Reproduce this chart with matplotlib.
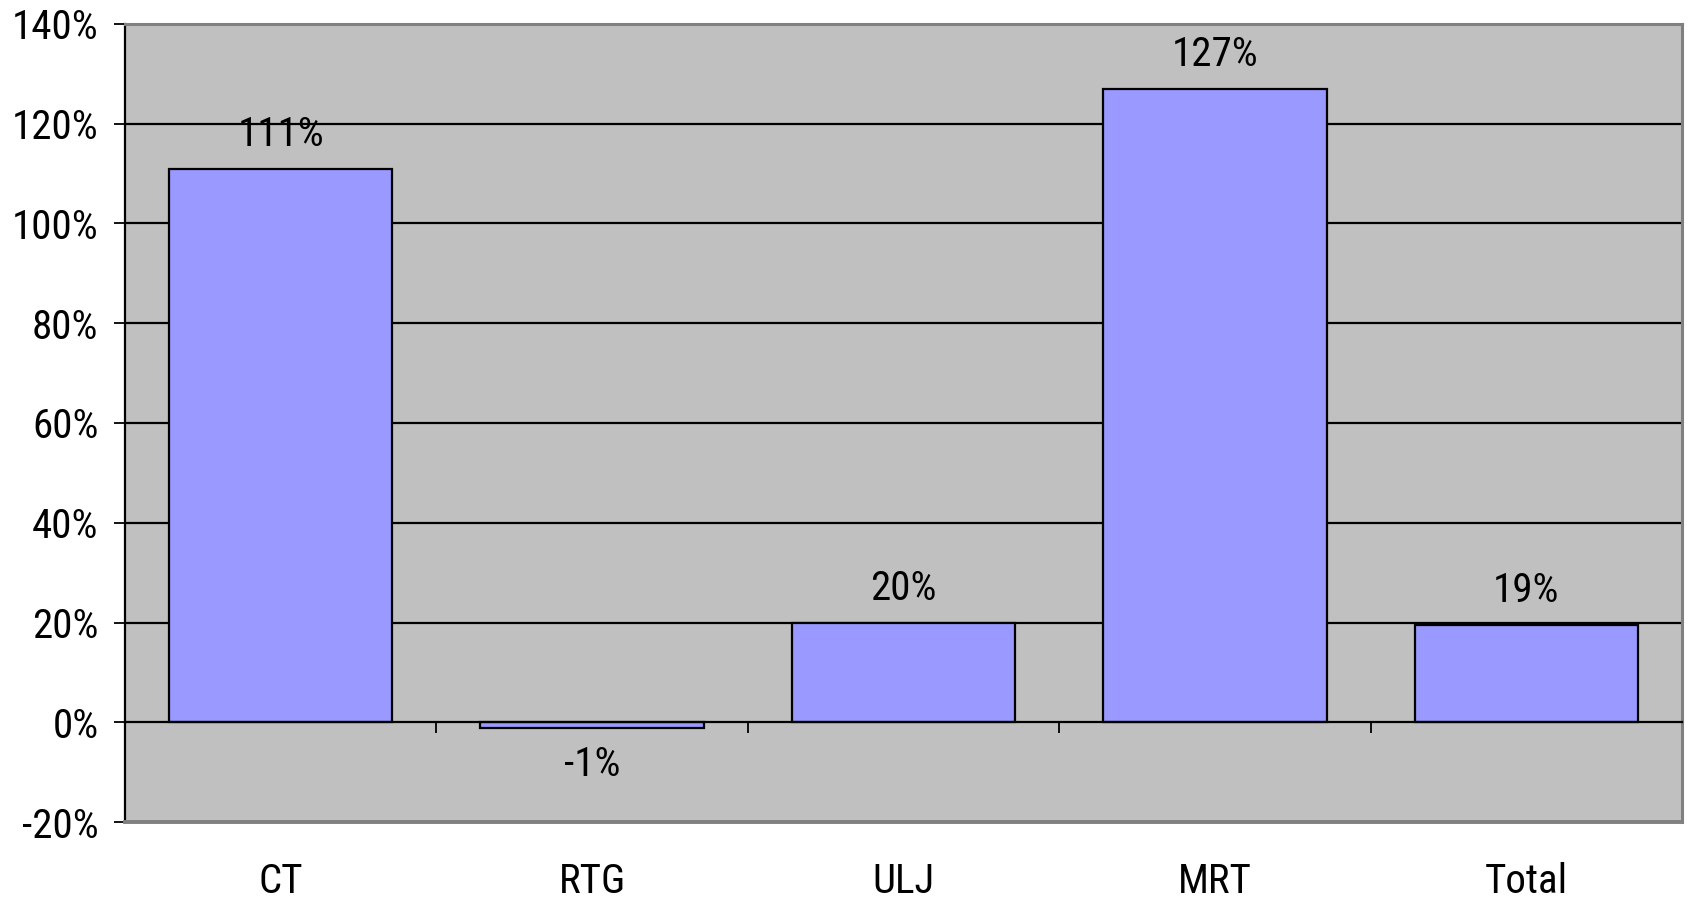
import matplotlib
matplotlib.use("Agg")
import matplotlib.pyplot as plt
import matplotlib.transforms as mtransforms
from matplotlib import font_manager

categories = ["CT", "RTG", "ULJ", "MRT", "Total"]
values = [110.9, -1.2, 19.9, 127.0, 19.4]
yticks = [-20, 0, 20, 40, 60, 80, 100, 120, 140]
ytick_labels = [f"{t}%" for t in yticks]

names = {f.name for f in font_manager.fontManager.ttflist}
narrow = [n for n in ['Liberation Sans Narrow', 'Roboto Condensed', 'Arial Narrow'] if n in names]
if narrow:
    plt.rcParams['font.family'] = [narrow[0], 'Liberation Sans', 'DejaVu Sans']
    FS = 29.5
else:
    plt.rcParams['font.family'] = ['Liberation Sans', 'DejaVu Sans']
    FS = 27

fig = plt.figure(figsize=(16.89, 9.0), dpi=100)
ax = fig.add_axes([125/1689, 78/900, (1682-125)/1689, (822-24)/900])
ax.set_facecolor('#C0C0C0')

x = list(range(len(categories)))
ax.set_xlim(-0.5, len(categories) - 0.5)
ax.set_ylim(-20, 140)

# gridlines
for t in yticks[1:-1]:
    if t != 0:
        ax.axhline(t, color='black', lw=1.6, zorder=1)

ax.bar(x, values, width=0.717, color='#9999FF', edgecolor='black', linewidth=1.6, zorder=3)

# zero axis line with category ticks
ax.spines['bottom'].set_position(('data', 0))
ax.spines['bottom'].set_color('black')
ax.spines['bottom'].set_linewidth(1.6)
ax.spines['bottom'].set_zorder(4)
ax.set_xticks([i + 0.5 for i in x])
ax.tick_params(axis='x', direction='out', length=8, width=1.3, color='black', labelbottom=False)

# frame
ax.spines['left'].set_color('black')
ax.spines['left'].set_linewidth(1.6)
ax.spines['top'].set_color('#808080')
ax.spines['top'].set_linewidth(2.2)
ax.spines['right'].set_color('#808080')
ax.spines['right'].set_linewidth(2.2)
ax.plot([0, 1], [0, 0], transform=ax.transAxes, color='#808080', lw=2.8, clip_on=False, zorder=5)

ax.set_yticks(yticks)
ax.set_yticklabels(ytick_labels, fontsize=FS)
ax.tick_params(axis='y', direction='out', length=8, width=1.3, pad=11)

# category labels below plot
trans = mtransforms.blended_transform_factory(ax.transData, ax.transAxes)
for i, c in enumerate(categories):
    ax.text(i, -0.074, c, transform=trans, ha='center', va='center', fontsize=FS)

# value labels
for i, v in enumerate(values):
    lab = f"{v:.0f}%"
    if v >= 0:
        ax.annotate(lab, (i, v), xytext=(0, 11), textcoords='offset points',
                    ha='center', va='bottom', fontsize=FS, zorder=6)
    else:
        ax.annotate(lab, (i, v), xytext=(0, -12), textcoords='offset points',
                    ha='center', va='top', fontsize=FS, zorder=6)

fig.savefig("out.png", dpi=100)
